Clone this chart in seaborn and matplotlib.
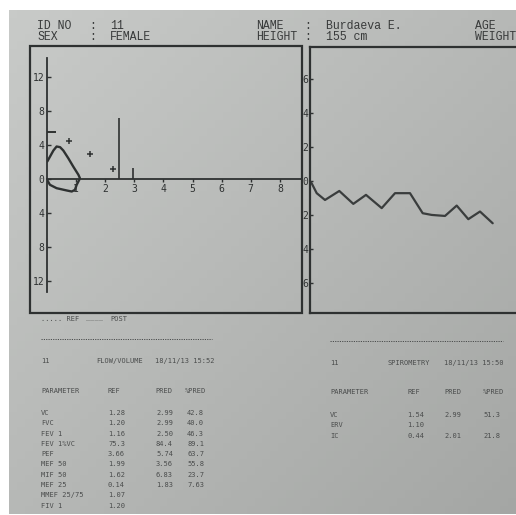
import numpy as np
import pandas as pd
import matplotlib
matplotlib.use("Agg")
import matplotlib.pyplot as plt
import seaborn as sns
from matplotlib.patches import Rectangle
from matplotlib.lines import Line2D

# ---------------- data ----------------
# flow/volume loop (volume L, flow L/s)
fv_exp_volume = [0.01, 0.22, 0.33, 0.45, 0.56, 0.73, 0.90, 1.08, 1.13]
fv_exp_flow = [2.04, 3.33, 3.80, 3.72, 3.33, 2.43, 1.45, 0.47, 0.08]
fv_insp_volume = [0.00, 0.10, 0.33, 0.68, 0.85, 0.96, 1.02, 1.11]
fv_insp_flow = [-0.10, -0.70, -1.10, -1.37, -1.49, -1.29, -0.70, -0.10]
pred_volume = [0.76, 1.48, 2.26]
pred_flow = [4.39, 2.90, 1.14]
pef_pred_volume = [0.15]
pef_pred_flow = [5.5]
mark_volume = [2.48, 2.97]
mark_height = [7.2, 1.3]
fv_xticks = [1, 2, 3, 4, 5, 6, 7, 8]
fv_yticks = [-12, -8, -4, 0, 4, 8, 12]

# spirometry trace (time, volume)
spiro_time = [0.0, 0.17, 0.67, 1.5, 2.93, 4.33, 5.6, 7.17, 8.5, 10.0,
              11.27, 12.17, 13.5, 14.67, 15.83, 17.0, 18.27]
spiro_volume = [0.0, -0.11, -0.69, -1.09, -0.56, -1.32, -0.79, -1.57, -0.69,
                -0.69, -1.87, -1.97, -2.03, -1.42, -2.22, -1.77, -2.46]
sp_yticks = [-6, -4, -2, 0, 2, 4, 6]

# header
hdr_left = [("ID NO", "11"), ("SEX", "FEMALE")]
hdr_right = [("NAME", "Burdaeva E."), ("HEIGHT", "155 cm")]
hdr_far = ["AGE", "WEIGHT"]

# tables
fv_title = ["11", "FLOW/VOLUME", "18/11/13 15:52"]
fv_params = ["VC", "FVC", "FEV 1", "FEV 1%VC", "PEF", "MEF 50", "MIF 50",
             "MEF 25", "MMEF 25/75", "FIV 1"]
fv_ref = ["1.28", "1.20", "1.16", "75.3", "3.66", "1.99", "1.62", "0.14", "1.07", "1.20"]
fv_pred = ["2.99", "2.99", "2.50", "84.4", "5.74", "3.56", "6.83", "1.83", "", ""]
fv_pct = ["42.8", "40.0", "46.3", "89.1", "63.7", "55.8", "23.7", "7.63", "", ""]

sp_title = ["11", "SPIROMETRY", "18/11/13 15:50"]
sp_params = ["VC", "ERV", "IC"]
sp_ref = ["1.54", "1.10", "0.44"]
sp_pred = ["2.99", "", "2.01"]
sp_pct = ["51.3", "", "21.8"]

# ---------------- figure ----------------
sns.set_style("white")
plt.rcParams['font.family'] = ['DejaVu Sans Mono', 'DejaVu Sans']

W, H = 516, 515
fig = plt.figure(figsize=(W / 100, H / 100), dpi=100)
fig.patch.set_facecolor("white")

def fx(x):
    return x / W

def fy(y):
    return 1 - y / H

def box(x0, y0, x1, y1):
    return [fx(x0), fy(y1), fx(x1) - fx(x0), fy(y0) - fy(y1)]

INK = "#2e3131"
TXT = "#4a4c4c"

# paper background gradient
bg = fig.add_axes(box(9, 10, 516, 514))
gx = np.linspace(0, 1, 64)
gy = np.linspace(0, 1, 64)
GX, GY = np.meshgrid(gx, gy)
shade = 0.785 - 0.07 * GX - 0.07 * GY
img = np.dstack([shade, shade + 0.008, shade])
bg.imshow(np.clip(img, 0, 1), aspect="auto", extent=[0, 1, 0, 1], origin="upper")
bg.set_axis_off()
bg.set_zorder(-10)

# frames
fig.add_artist(Rectangle((fx(30), fy(313)), fx(302) - fx(30), fy(46) - fy(313),
                         transform=fig.transFigure, fill=False, lw=1.6, edgecolor=INK))

# ---------- flow/volume panel ----------
ax = fig.add_axes(box(47, 58, 302, 292))
ax.set_facecolor("none")
ax.set_xlim(0, 8.76)
ax.set_ylim(-13.3, 14.2)
for s in ["top", "right"]:
    ax.spines[s].set_visible(False)
ax.spines["bottom"].set_position(("data", 0))
for s in ["left", "bottom"]:
    ax.spines[s].set_color(INK)
    ax.spines[s].set_linewidth(1.3)

exp_df = pd.DataFrame({"vol": fv_exp_volume, "flow": fv_exp_flow})
insp_df = pd.DataFrame({"vol": fv_insp_volume, "flow": fv_insp_flow})
sns.lineplot(data=exp_df, x="vol", y="flow", sort=False, ax=ax, color=INK, lw=1.7)
sns.lineplot(data=insp_df, x="vol", y="flow", sort=False, ax=ax, color=INK, lw=1.7)
pred_df = pd.DataFrame({"vol": pred_volume, "flow": pred_flow})
sns.scatterplot(data=pred_df, x="vol", y="flow", ax=ax, marker="+", s=22,
                color=INK, linewidth=1.1)
sns.scatterplot(x=pef_pred_volume, y=pef_pred_flow, ax=ax, marker="_", s=45,
                color=INK, linewidth=1.4)
ax.vlines(mark_volume, 0, mark_height, color=INK, lw=1.2)

ax.set_xticks(fv_xticks)
ax.set_xticklabels([str(v) for v in fv_xticks])
ax.set_yticks(fv_yticks)
ax.set_yticklabels([str(abs(v)) for v in fv_yticks])
ax.tick_params(axis="x", direction="out", length=2.5, width=1, color=INK,
               labelsize=7, labelcolor=INK, pad=1.5, bottom=True)
ax.tick_params(axis="y", direction="in", length=3, width=1, color=INK,
               labelsize=7, labelcolor=INK, pad=2, left=True)
ax.set_xlabel("")
ax.set_ylabel("")
ax.grid(False)

# ---------- spirometry panel ----------
ax2 = fig.add_axes(box(310, 47, 540, 313))
ax2.set_facecolor("none")
ax2.set_xlim(0, 23)
ax2.set_ylim(-7.74, 7.91)
ax2.spines["right"].set_visible(False)
for s in ["left", "top", "bottom"]:
    ax2.spines[s].set_color(INK)
    ax2.spines[s].set_linewidth(1.6)
sp_df = pd.DataFrame({"t": spiro_time, "v": spiro_volume})
sns.lineplot(data=sp_df, x="t", y="v", sort=False, ax=ax2, color="#3a3d3d", lw=1.6)
ax2.set_xticks([])
ax2.set_yticks(sp_yticks)
ax2.set_yticklabels([str(abs(v)) for v in sp_yticks])
ax2.tick_params(axis="y", direction="in", length=2.5, width=1, color=INK,
                labelsize=7, labelcolor=INK, pad=1, left=True)
ax2.set_xlabel("")
ax2.set_ylabel("")
ax2.grid(False)

# ---------- header ----------
hf = dict(family=["Liberation Mono", "DejaVu Sans Mono"], fontsize=8.3,
          color="#383a3a", va="center", ha="left")
for i, (k, v) in enumerate(hdr_left):
    yy = fy(26 + 10.5 * i)
    fig.text(fx(37), yy, k, **hf)
    fig.text(fx(89), yy, ":", **hf)
    fig.text(fx(110), yy, v, **hf)
for i, (k, v) in enumerate(hdr_right):
    yy = fy(26 + 10.5 * i)
    fig.text(fx(256), yy, k, **hf)
    fig.text(fx(304), yy, ":", **hf)
    fig.text(fx(326), yy, v, **hf)
for i, k in enumerate(hdr_far):
    fig.text(fx(475), fy(26 + 10.5 * i), k, **hf)

# ---------- legend line ----------
tf = dict(family=["DejaVu Sans Mono"], fontsize=5, color=TXT, va="center", ha="left")
fig.text(fx(41), fy(319), "..... REF", **tf)
fig.text(fx(86), fy(318), "____", **tf)
fig.text(fx(110), fy(319), "POST", **tf)

# dotted separators
fig.add_artist(Line2D([fx(41), fx(212)], [fy(339), fy(339)], transform=fig.transFigure,
                      color=TXT, lw=0.7, ls=(0, (1.2, 1.2))))
fig.add_artist(Line2D([fx(330), fx(503)], [fy(341), fy(341)], transform=fig.transFigure,
                      color=TXT, lw=0.7, ls=(0, (1.2, 1.2))))

# ---------- flow/volume table ----------
fig.text(fx(41), fy(361), fv_title[0], **tf)
fig.text(fx(96), fy(361), fv_title[1], **tf)
fig.text(fx(155), fy(361), fv_title[2], **tf)
fig.text(fx(41), fy(391), "PARAMETER", **tf)
fig.text(fx(107), fy(391), "REF", **tf)
fig.text(fx(155), fy(391), "PRED", **tf)
fig.text(fx(185), fy(391), "%PRED", **tf)
for i, p in enumerate(fv_params):
    yy = fy(413 + 10.3 * i)
    fig.text(fx(41), yy, p, **tf)
    fig.text(fx(108), yy, fv_ref[i], **tf)
    fig.text(fx(156), yy, fv_pred[i], **tf)
    fig.text(fx(187), yy, fv_pct[i], **tf)

# ---------- spirometry table ----------
fig.text(fx(330), fy(363), sp_title[0], **tf)
fig.text(fx(387), fy(363), sp_title[1], **tf)
fig.text(fx(444), fy(363), sp_title[2], **tf)
fig.text(fx(330), fy(392), "PARAMETER", **tf)
fig.text(fx(407), fy(392), "REF", **tf)
fig.text(fx(444), fy(392), "PRED", **tf)
fig.text(fx(483), fy(392), "%PRED", **tf)
sp_rows_y = [415, 425, 436]
for i, p in enumerate(sp_params):
    yy = fy(sp_rows_y[i])
    fig.text(fx(330), yy, p, **tf)
    fig.text(fx(407), yy, sp_ref[i], **tf)
    fig.text(fx(444), yy, sp_pred[i], **tf)
    fig.text(fx(483), yy, sp_pct[i], **tf)

fig.savefig("out.png", dpi=100)
